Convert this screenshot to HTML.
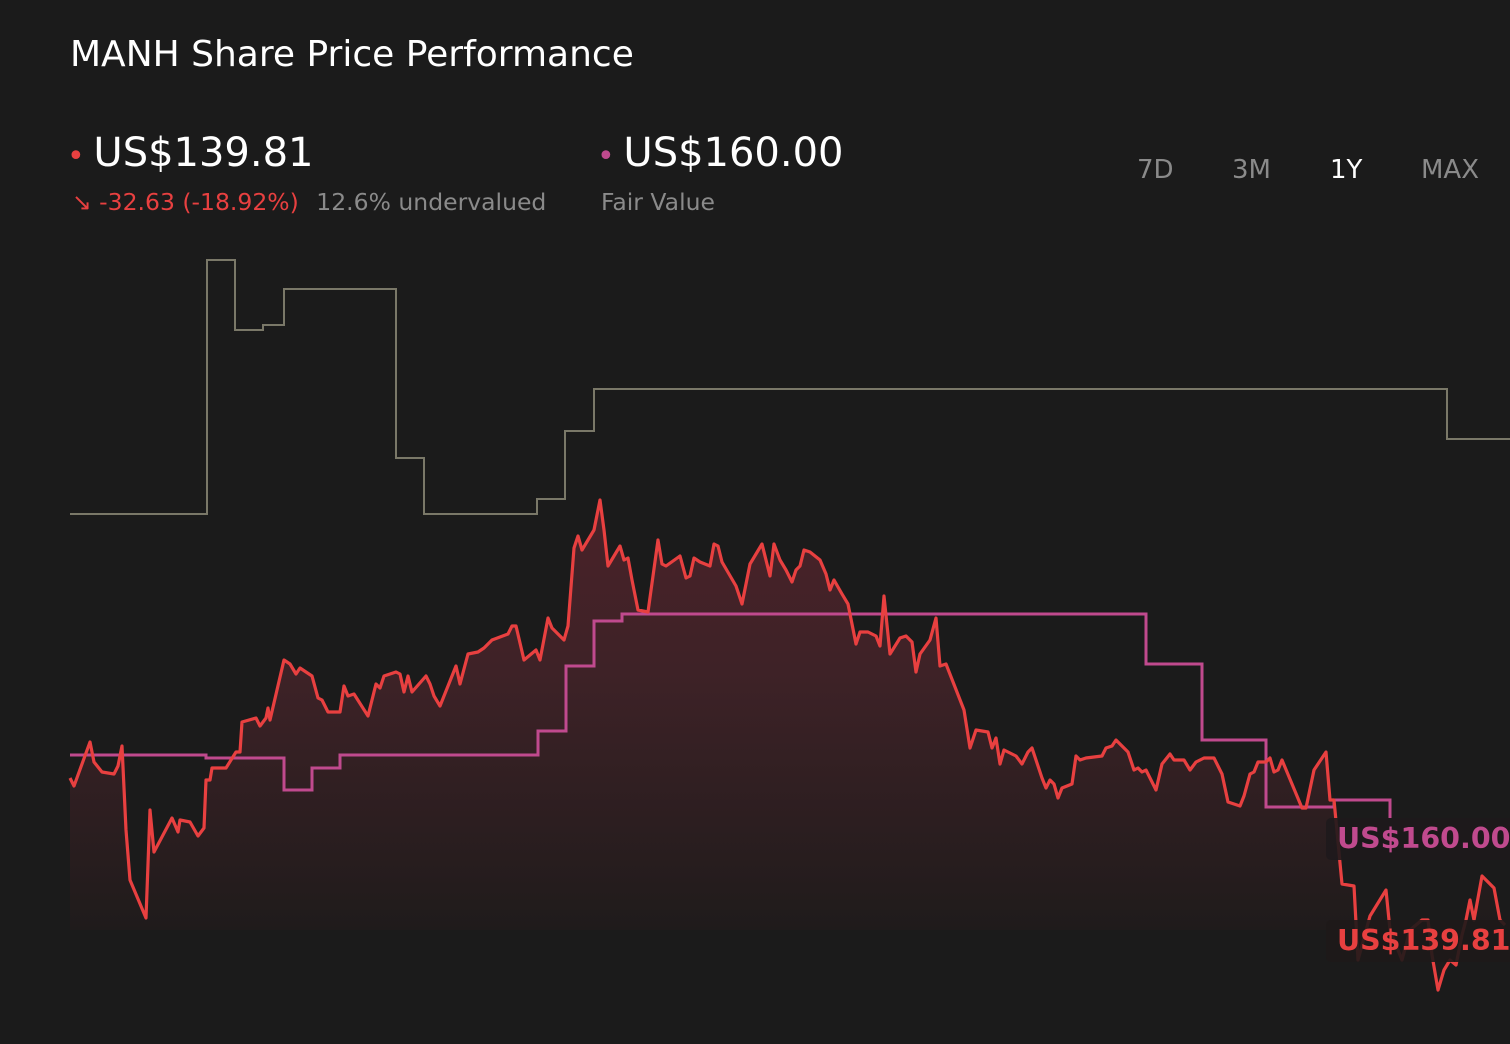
<!DOCTYPE html>
<html><head><meta charset="utf-8"><style>
body{margin:0;background:#1b1b1b;width:1510px;height:1044px;overflow:hidden;font-family:"DejaVu Sans","Liberation Sans",sans-serif;color:#fff;position:relative}
.a{position:absolute;white-space:nowrap}
</style></head><body>
<div class="a" style="left:70px;top:34px;font-size:36px">MANH Share Price Performance</div>
<div class="a" style="left:67px;top:130px;font-size:40px"><span style="color:#e84040;font-size:30px;margin-right:-4px">•</span> US$139.81</div>
<div class="a" style="left:72px;top:188px;font-size:23.5px;color:#e84040">↘ -32.63 (-18.92%) <span style="color:#8a8a8a;margin-left:10px">12.6% undervalued</span></div>
<div class="a" style="left:597px;top:130px;font-size:40px"><span style="color:#c04a8e;font-size:30px;margin-right:-4px">•</span> US$160.00</div>
<div class="a" style="left:601px;top:188px;font-size:23.5px;color:#8a8a8a">Fair Value</div>
<div class="a" style="left:1137px;top:155px;font-size:26px;color:#8a8a8a">7D</div>
<div class="a" style="left:1232px;top:155px;font-size:26px;color:#8a8a8a">3M</div>
<div class="a" style="left:1330px;top:155px;font-size:26px;color:#fff">1Y</div>
<div class="a" style="left:1421px;top:155px;font-size:26px;color:#8a8a8a">MAX</div>
<svg id="c" class="a" style="left:0;top:0" width="1510" height="1044">
<defs><linearGradient id="g" x1="0" y1="500" x2="0" y2="930" gradientUnits="userSpaceOnUse"><stop offset="0" stop-color="#4a2228"/><stop offset="0.4" stop-color="#3e2227"/><stop offset="1" stop-color="#1f1b1b"/></linearGradient></defs>
</svg>
<script>
const priceT=[0,4,20,24,32,44,48,52,56,60,76,80,84,102,108,110,120,128,134,136,140,142,156,166,170,172,186,190,196,198,200,214,220,226,230,242,248,252,258,270,274,278,284,298,306,310,314,326,330,334,338,342,356,360,364,370,386,390,398,408,414,422,438,442,446,454,466,470,478,482,494,498,504,508,512,524,530,534,538,544,550,554,558,562,568,578,588,592,596,610,616,620,624,630,640,644,648,652,666,672,680,692,700,704,710,716,722,726,730,734,740,750,756,760,764,772,778,782,786,790,798,806,810,814,820,830,836,842,846,850,860,866,870,876,894,900,906,918,922,926,930,934,946,952,958,962,972,976,980,984,988,992,1002,1006,1010,1016,1032,1036,1042,1046,1058,1064,1068,1072,1076,1086,1092,1100,1104,1114,1120,1126,1134,1144,1152,1158,1170,1174,1180,1184,1188,1196,1200,1204,1208,1212,1232,1236,1244,1256,1260,1264,1272,1284,1288,1300,1316,1320,1332,1340,1352,1358,1362,1368,1374,1380,1386,1392,1396,1400,1404,1412,1424,1430,1435];
const priceV=[222,214,258,238,228,226,234,254,170,120,82,190,148,182,168,180,178,164,172,220,220,232,232,248,248,278,282,274,282,292,280,340,336,326,332,324,302,300,288,288,314,304,306,284,316,312,324,328,326,308,324,308,324,316,304,294,334,316,346,348,352,360,366,374,374,340,350,340,382,372,360,374,452,464,450,470,500,470,434,444,454,440,442,420,390,388,460,436,434,444,422,424,442,438,434,456,454,438,414,396,436,456,424,456,440,430,418,430,434,450,448,440,426,410,420,406,396,376,356,368,368,364,354,404,346,362,364,358,328,346,360,382,334,336,290,252,270,268,252,262,236,250,244,236,248,252,222,212,220,216,202,212,216,244,240,242,244,252,254,260,248,230,232,228,230,210,236,246,240,240,230,238,242,242,226,198,194,204,226,228,238,238,242,228,230,240,192,192,230,248,200,200,116,114,40,84,110,70,40,70,80,80,45,10,30,40,35,65,80,100,80,124,112,80,75];
const fairT=[0,136,214,242,270,468,496,524,552,1076,1132,1196,1264,1320];
const fairV=[245,242,210,232,245,269,334,379,386,336,260,193,200,182];
const targetT=[0,137,165,193,214,326,354,467,495,524,1377,1440];
const targetV=[486,740,670,675,711,542,486,501,569,611,561,561];
const X=t=>70+t, Y=v=>1000-v;
const svg=document.getElementById('c'),NS='http://www.w3.org/2000/svg';
function mk(tag,attrs,name){const e=document.createElementNS(NS,tag);for(const k in attrs)e.setAttribute(k,attrs[k]);


svg.appendChild(e);return e;}
let pts=priceT.map((t,i)=>X(t)+','+Y(priceV[i]));
mk('polygon',{points:X(0)+',930 '+pts.join(' ')+' '+X(priceT[priceT.length-1])+',930',fill:'url(#g)'},'price-area');
function steps(T,V){let d='M'+X(T[0])+','+Y(V[0]);for(let i=1;i<T.length;i++){d+=' H'+X(T[i])+' V'+Y(V[i]);}
return d;}
mk('path',{d:steps(targetT,targetV),fill:'none',stroke:'#7a7868','stroke-width':2},'analyst-target-line');
mk('path',{d:steps(fairT,fairV),fill:'none',stroke:'#c04a8e','stroke-width':3},'fair-value-line');
mk('polyline',{points:pts.join(' '),fill:'none',stroke:'#e84040','stroke-width':3.2,'stroke-linejoin':'round'},'price-line');
mk('rect',{x:1326,y:818,width:200,height:42,rx:5,fill:'#1e1a1c','fill-opacity':0.9},'fair-value-label-bg');
const t1=mk('text',{x:1337,y:848,fill:'#c04a8e','font-size':28.5,'font-weight':'bold','font-family':'DejaVu Sans, sans-serif'},'fair-value-label');t1.textContent='US$160.00';
mk('rect',{x:1326,y:920,width:200,height:42,rx:5,fill:'#1e1a1a','fill-opacity':0.9},'price-label-bg');
const t2=mk('text',{x:1337,y:950,fill:'#e84040','font-size':28.5,'font-weight':'bold','font-family':'DejaVu Sans, sans-serif'},'price-label');t2.textContent='US$139.81';
</script>
</body></html>
